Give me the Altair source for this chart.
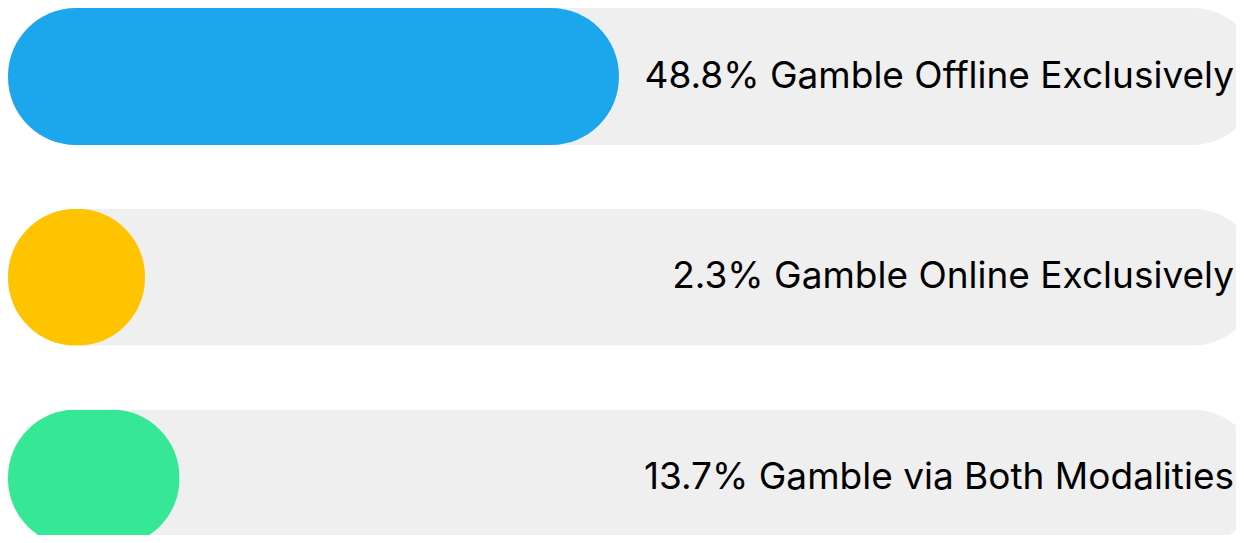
import altair as alt
import pandas as pd

categories = ["Gamble Offline Exclusively", "Gamble Online Exclusively", "Gamble via Both Modalities"]
values = [48.8, 2.3, 13.7]
colors = ["#1CA7EC", "#FFC400", "#36E795"]
track_total = [100, 100, 100]

df = pd.DataFrame({
    "category": categories,
    "value": values,
    "color": colors,
    "total": track_total,
})
df["label"] = [f"{v}% {c}" for v, c in zip(values, categories)]

W = 1228          # visible plot width
H = 527           # visible plot height
TRACK_W = 1252    # pixel length of a full (100%) track
BAR_H = 137
STEP = 200.75
min_pct = 100 * BAR_H / TRACK_W  # a bar is never narrower than it is tall

pad_inner = 1 - BAR_H / STEP
ysc = alt.Y(
    "category:N",
    sort=categories,
    axis=None,
    scale=alt.Scale(range=[0, STEP * (3 - pad_inner)], paddingInner=pad_inner, paddingOuter=0),
)
xsc = alt.Scale(domain=[0, 100 * W / TRACK_W], nice=False)

base = alt.Chart(df)

track = base.mark_bar(color="#EFEFEF", cornerRadius=BAR_H / 2 - 0.5).encode(
    x=alt.X("total:Q", scale=xsc, axis=None),
    y=ysc,
)

bars = base.transform_calculate(
    shown=f"max(datum.value, {min_pct})"
).mark_bar(cornerRadius=BAR_H / 2 - 0.5).encode(
    x=alt.X("shown:Q", scale=xsc, axis=None),
    y=ysc,
    color=alt.Color("color:N", scale=None, legend=None),
)

labels = base.mark_text(
    align="right", baseline="middle", fontSize=37, font="Inter", color="#000000"
).encode(
    x=alt.value(1226),
    y=ysc,
    text="label:N",
)

chart = alt.layer(track, bars, labels).properties(
    width=W, height=H, padding=0, background="white",
    autosize=alt.AutoSizeParams(type="none"),
).configure_view(stroke=None)

chart.save("out.html", embed_options={"renderer": "svg", "actions": False})
